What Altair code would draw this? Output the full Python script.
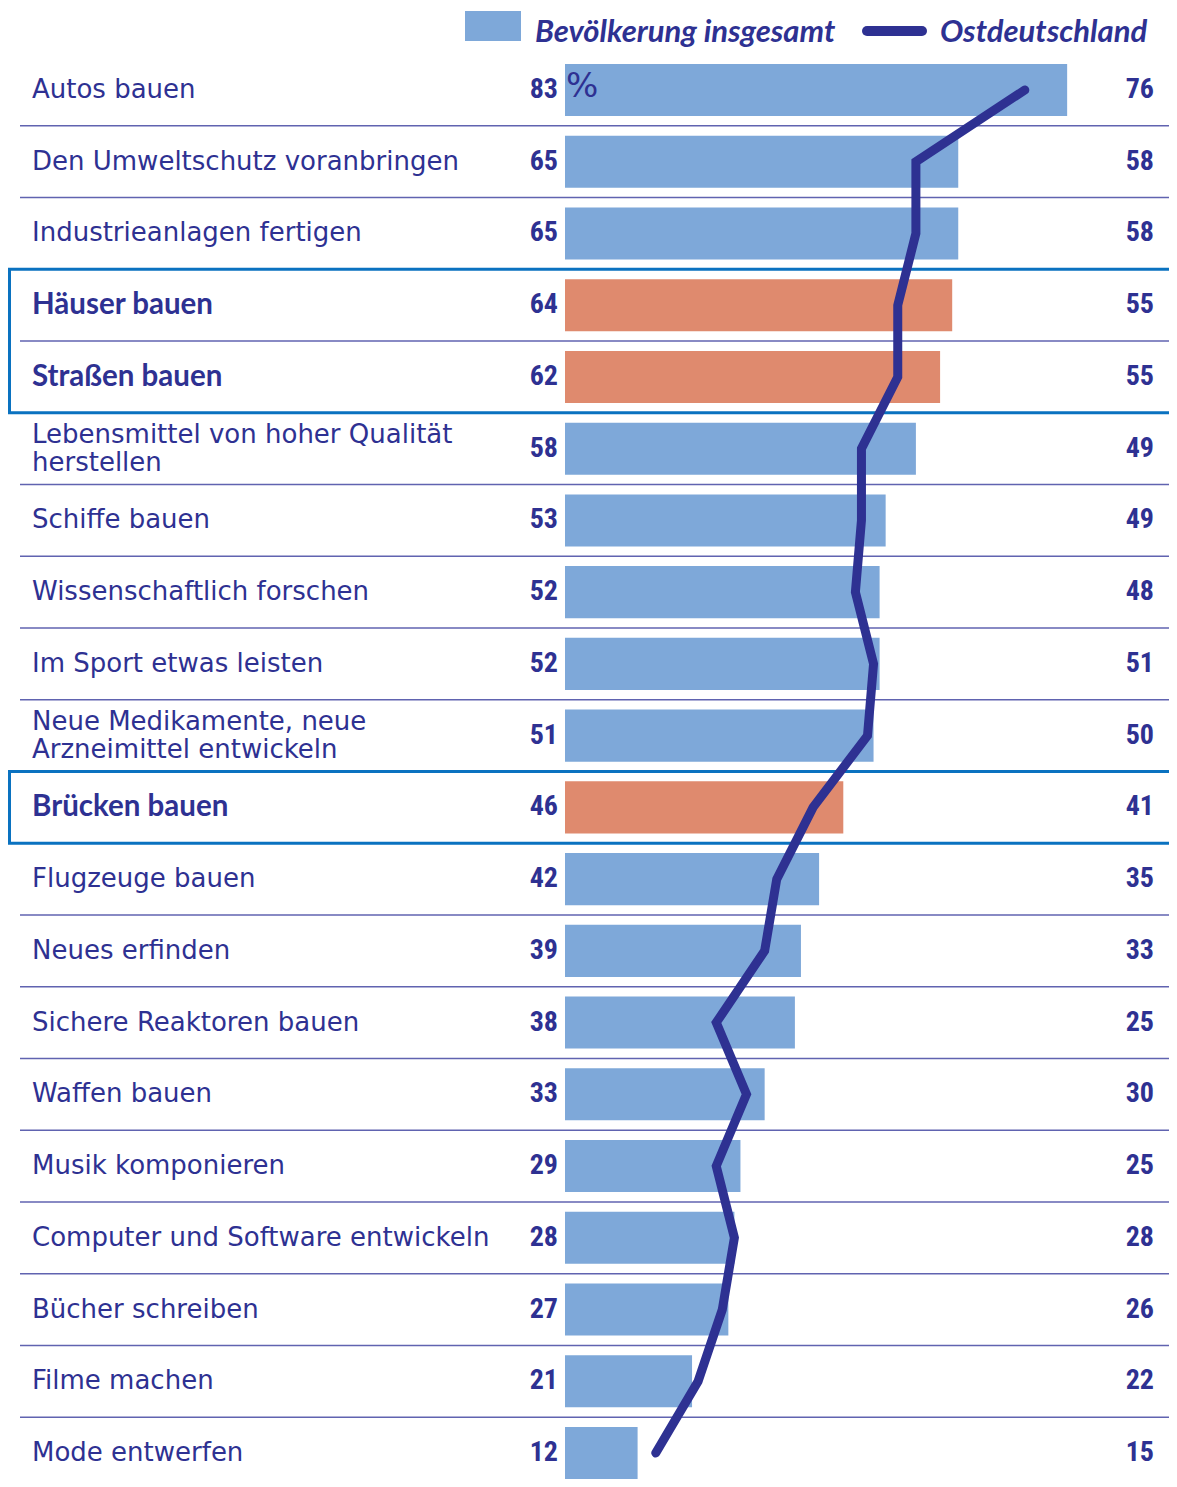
import altair as alt
import pandas as pd

labels = [
    "Autos bauen",
    "Den Umweltschutz voranbringen",
    "Industrieanlagen fertigen",
    "Häuser bauen",
    "Straßen bauen",
    "Lebensmittel von hoher Qualität\nherstellen",
    "Schiffe bauen",
    "Wissenschaftlich forschen",
    "Im Sport etwas leisten",
    "Neue Medikamente, neue\nArzneimittel entwickeln",
    "Brücken bauen",
    "Flugzeuge bauen",
    "Neues erfinden",
    "Sichere Reaktoren bauen",
    "Waffen bauen",
    "Musik komponieren",
    "Computer und Software entwickeln",
    "Bücher schreiben",
    "Filme machen",
    "Mode entwerfen",
]
total = [83, 65, 65, 64, 62, 58, 53, 52, 52, 51, 46, 42, 39, 38, 33, 29, 28, 27, 21, 12]
east = [76, 58, 58, 55, 55, 49, 49, 48, 51, 50, 41, 35, 33, 25, 30, 25, 28, 26, 22, 15]
highlight = [0, 0, 0, 1, 1, 0, 0, 0, 0, 0, 1, 0, 0, 0, 0, 0, 0, 0, 0, 0]

legend_labels = ["Bevölkerung insgesamt", "Ostdeutschland"]

NAVY = "#2e3192"
BAR = "#7ea8d9"
HL = "#df8a6e"
BOX = "#0a72c0"
SEP = "#6063b0"
FONT = "DejaVu Sans"
BFONT = "Lato"
NUMFONT = "Roboto Condensed"

W, H = 1161, 1471

df = pd.DataFrame({
    "idx": list(range(len(labels))),
    "label": labels,
    "total": total,
    "east": east,
    "hl": highlight,
})

# contiguous highlighted groups -> boxes
boxes = []
start = None
for i, h in enumerate(highlight + [0]):
    if h and start is None:
        start = i
    if not h and start is not None:
        boxes.append({"b0": start - 0.5, "b1": i - 0.5})
        start = None
box_df = pd.DataFrame(boxes)

xs = alt.Scale(domain=[0, 100], range=[557, 1162])
ys = alt.Scale(domain=[0, 19], range=[82, 1445])

base = alt.Chart(df)

seps = base.transform_filter("datum.idx < 19").transform_calculate(
    sy="datum.idx + 0.5"
).mark_rule(color=SEP, strokeWidth=1.5).encode(
    y=alt.Y("sy:Q", scale=ys, axis=None),
    x=alt.value(12),
    x2=alt.value(W),
)

bars = base.transform_calculate(
    y0="datum.idx - 0.363", y1="datum.idx + 0.363", zero="0"
).mark_rect().encode(
    x=alt.X("zero:Q", scale=xs, axis=None),
    x2="total:Q",
    y=alt.Y("y0:Q", scale=ys, axis=None),
    y2="y1:Q",
    color=alt.condition("datum.hl == 1", alt.value(HL), alt.value(BAR)),
)

line = base.mark_line(
    color=NAVY, strokeWidth=9, strokeCap="round", strokeJoin="miter"
).encode(
    x=alt.X("east:Q", scale=xs, axis=None),
    y=alt.Y("idx:Q", scale=ys, axis=None),
    order="idx:Q",
)

lab_norm = base.transform_filter("datum.hl == 0").transform_calculate(
    ty="datum.idx - (indexof(datum.label, '\\n') >= 0 ? 0.195 : 0)"
).mark_text(
    align="left", baseline="middle", font=FONT, fontSize=26, color=NAVY,
    lineBreak="\n", lineHeight=28,
).encode(
    x=alt.value(24),
    y=alt.Y("ty:Q", scale=ys, axis=None),
    text="label:N",
)

lab_hl = base.transform_filter("datum.hl == 1").mark_text(
    align="left", baseline="middle", font=BFONT, fontSize=29.5, fontWeight="bold",
    color=NAVY,
).encode(
    x=alt.value(24),
    y=alt.Y("idx:Q", scale=ys, axis=None),
    text="label:N",
)

num_left = base.mark_text(
    align="right", baseline="middle", font=NUMFONT, fontSize=28,
    fontWeight="bold", color=NAVY,
).encode(
    x=alt.value(550),
    y=alt.Y("idx:Q", scale=ys, axis=None),
    text="total:Q",
)

num_right = base.mark_text(
    align="right", baseline="middle", font=NUMFONT, fontSize=28,
    fontWeight="bold", color=NAVY,
).encode(
    x=alt.value(1146),
    y=alt.Y("idx:Q", scale=ys, axis=None),
    text="east:Q",
)

pct = base.transform_filter("datum.idx == 0").mark_text(
    align="left", baseline="middle", font="DejaVu Sans", fontSize=34, color=NAVY,
    dy=-3,
).encode(
    x=alt.value(558),
    y=alt.Y("idx:Q", scale=ys, axis=None),
    text=alt.value("%"),
)

box_layer = alt.Chart(box_df).mark_rect(
    fill=None, stroke=BOX, strokeWidth=3
).encode(
    y=alt.Y("b0:Q", scale=ys, axis=None),
    y2="b1:Q",
    x=alt.value(1.5),
    x2=alt.value(W + 20),
)

leg_df = pd.DataFrame({"name": legend_labels, "lx": [527, 932]})
leg_rect = alt.Chart(leg_df).transform_filter("datum.lx < 600").mark_rect(color=BAR).encode(
    x=alt.value(457), x2=alt.value(513), y=alt.value(3), y2=alt.value(33)
)
leg_line = alt.Chart(leg_df).transform_filter("datum.lx > 600").mark_rule(
    color=NAVY, strokeWidth=10, strokeCap="round"
).encode(
    x=alt.value(859), x2=alt.value(914), y=alt.value(23)
)
leg_text = alt.Chart(leg_df).mark_text(
    align="left", baseline="middle", font=BFONT, fontSize=31,
    fontWeight="bold", fontStyle="italic", color=NAVY,
).encode(
    x=alt.X("lx:Q", scale=alt.Scale(domain=[0, W], range=[0, W]), axis=None),
    y=alt.value(25),
    text="name:N",
)

chart = alt.layer(
    seps, bars, box_layer, line, lab_norm, lab_hl, num_left, num_right, pct,
    leg_rect, leg_line, leg_text,
).resolve_scale(x="independent").properties(
    width=W, height=H, autosize=alt.AutoSizeParams(type="none"),
    padding=0,
).configure_view(stroke=None)

chart.save("out.html", embed_options={"renderer": "svg", "actions": False})
